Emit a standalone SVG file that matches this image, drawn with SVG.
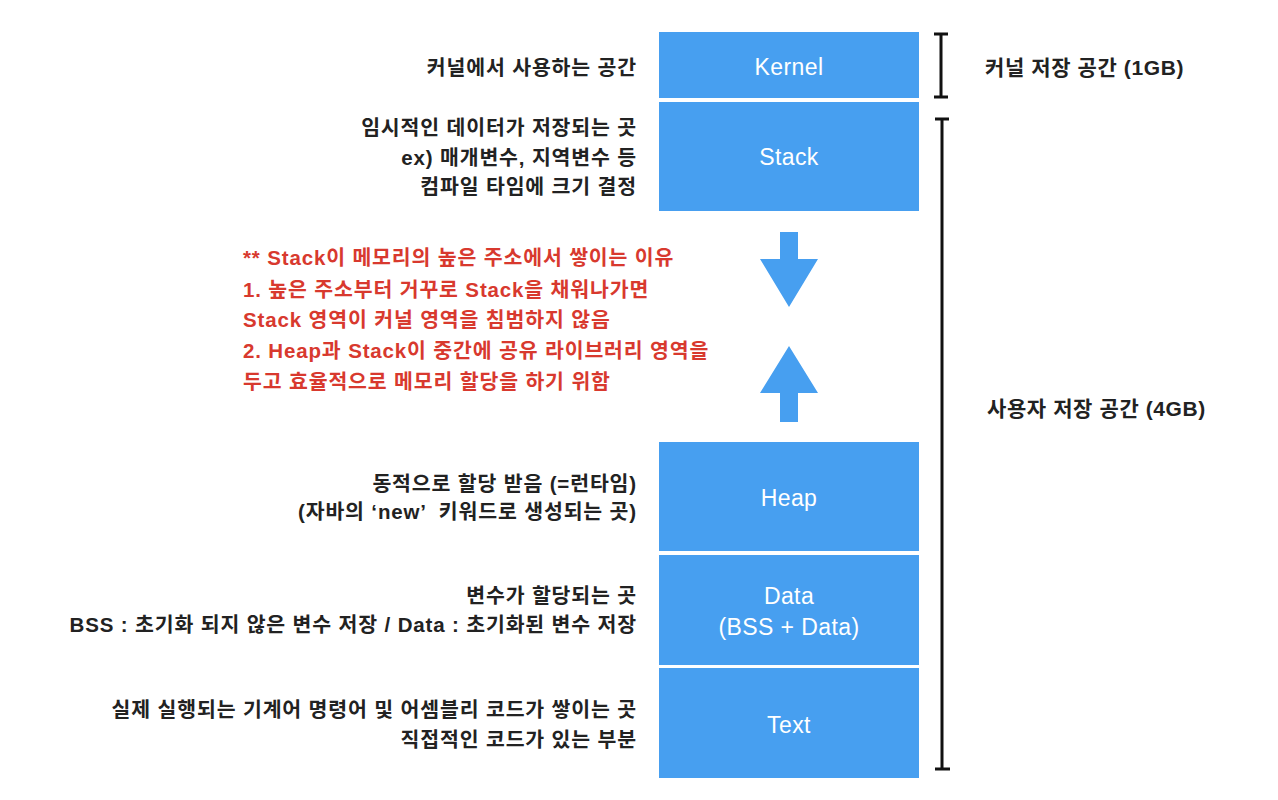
<svg xmlns="http://www.w3.org/2000/svg" width="1278" height="800" viewBox="0 0 1278 800">
<style>
.box{fill:#479ff0}
.bl{font-family:"Liberation Sans","Noto Sans CJK KR",sans-serif;font-size:23px;letter-spacing:0.4px;fill:#fff;text-anchor:middle}
.lb{font-family:"Liberation Sans","Noto Sans CJK KR",sans-serif;font-weight:bold;font-size:20.5px;letter-spacing:0.85px;fill:#222;text-anchor:end}
.rl{font-family:"Liberation Sans","Noto Sans CJK KR",sans-serif;font-weight:bold;font-size:21px;letter-spacing:0.6px;fill:#222}
.red{font-family:"Liberation Sans","Noto Sans CJK KR",sans-serif;font-weight:bold;font-size:20.5px;letter-spacing:0.85px;fill:#d8392e}
.br{stroke:#111;stroke-width:3;fill:none}
</style>
<rect width="1278" height="800" fill="#fff"/>
<g id="kernel"><rect class="box" x="659" y="32" width="260" height="66"/><text class="bl" x="789" y="75">Kernel</text></g>
<g id="stack"><rect class="box" x="659" y="102" width="260" height="109"/><text class="bl" x="789" y="165">Stack</text></g>
<g id="heap"><rect class="box" x="659" y="442" width="260" height="109"/><text class="bl" x="789" y="506">Heap</text></g>
<g id="data"><rect class="box" x="659" y="555" width="260" height="110"/><text class="bl" x="789" y="604">Data</text><text class="bl" x="789" y="635">(BSS + Data)</text></g>
<g id="text"><rect class="box" x="659" y="668" width="260" height="110"/><text class="bl" x="789" y="733">Text</text></g>
<g id="connectors">
<path class="box" d="M780 232H798V259H818L789 307L760 259H780Z"/>
<path class="box" d="M780 422H798V393H818L789 346L760 393H780Z"/>
<path class="br" d="M941 34V97M934 34H948M934 97H948"/>
<path class="br" d="M942 119V769M935 119H949M935 769H950"/>
</g>
<g id="labels-left">
<text class="lb" x="637" y="75">커널에서 사용하는 공간</text>
<text class="lb" x="637" y="135">임시적인 데이터가 저장되는 곳</text>
<text class="lb" x="637" y="165">ex) 매개변수, 지역변수 등</text>
<text class="lb" x="637" y="194">컴파일 타임에 크기 결정</text>
<text class="lb" x="637" y="491">동적으로 할당 받음 (=런타임)</text>
<text class="lb" x="637" y="519" xml:space="preserve">(자바의 ‘new’  키워드로 생성되는 곳)</text>
<text class="lb" x="637" y="603">변수가 할당되는 곳</text>
<text class="lb" x="637" y="632">BSS : 초기화 되지 않은 변수 저장 / Data : 초기화된 변수 저장</text>
<text class="lb" x="637" y="717">실제 실행되는 기계어 명령어 및 어셈블리 코드가 쌓이는 곳</text>
<text class="lb" x="637" y="747">직접적인 코드가 있는 부분</text>
</g>
<g id="note">
<text class="red" x="243" y="265">** Stack이 메모리의 높은 주소에서 쌓이는 이유</text>
<text class="red" x="243" y="297">1. 높은 주소부터 거꾸로 Stack을 채워나가면</text>
<text class="red" x="243" y="327">Stack 영역이 커널 영역을 침범하지 않음</text>
<text class="red" x="243" y="358">2. Heap과 Stack이 중간에 공유 라이브러리 영역을</text>
<text class="red" x="243" y="389">두고 효율적으로 메모리 할당을 하기 위함</text>
</g>
<g id="labels-right">
<text class="rl" x="985" y="75">커널 저장 공간 (1GB)</text>
<text class="rl" x="987" y="416">사용자 저장 공간 (4GB)</text>
</g>
</svg>
